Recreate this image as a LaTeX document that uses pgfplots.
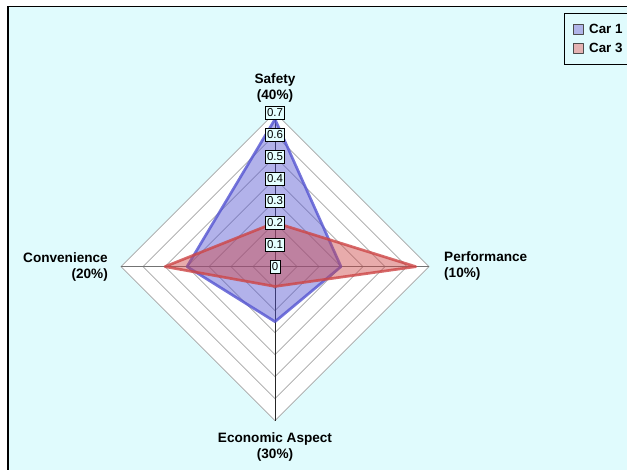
\documentclass[border=0pt]{standalone}
\usepackage{fontspec}
\setmainfont{Liberation Sans}
\usepackage{pgfplots}
\pgfplotsset{compat=1.18}

\definecolor{bgcyan}{RGB}{224,251,253}
\definecolor{boxcyan}{RGB}{228,255,255}
\definecolor{gridgray}{RGB}{165,165,165}
\definecolor{carone}{RGB}{85,85,210}
\definecolor{carthree}{RGB}{205,70,70}
\definecolor{caroneleg}{RGB}{176,180,232}
\definecolor{carthreeleg}{RGB}{228,178,178}

\begin{document}
\begin{tikzpicture}
\begin{axis}[
    x=6.6cm, y=6.6cm,
    xmin=-1.25, xmax=1.6, ymin=-0.924, ymax=1.212,
    hide axis, clip=false,
    legend style={at={(axis cs:1.3136,1.1532)}, anchor=north west,
        draw=black, line width=0.7pt, fill=bgcyan,
        font=\fontsize{11.4}{13}\selectfont\bfseries,
        inner xsep=7pt, inner ysep=7pt, row sep=3pt, column sep=3pt,
        cells={anchor=west}},
]
\coordinate (bl) at (axis cs:-1.25,-0.924);
\coordinate (tr) at (axis cs:1.6,1.212);
\fill[white] (bl) rectangle (tr);
\fill[bgcyan] (axis cs:-1.2136,-0.95) rectangle (axis cs:1.65,1.1805);
\draw[black, line width=0.9pt] (axis cs:-1.2136,-0.95) -- (axis cs:-1.2136,1.1805) -- (axis cs:1.65,1.1805);

% web
\addplot[fill=white, draw=none, forget plot] coordinates {(0,0.7) (0.7,0) (0,-0.7) (-0.7,0)} -- cycle;
\pgfplotsinvokeforeach{0.1,0.2,0.3,0.4,0.5,0.6,0.7}{
  \addplot[draw=gridgray, line width=0.7pt, forget plot] coordinates {(0,#1) (#1,0) (0,-#1) (-#1,0)} -- cycle;
}
\addplot[draw=gray!90!black, line width=1pt, forget plot] coordinates {(-0.7,0) (0.7,0)};
\addplot[draw=black!85, line width=0.7pt, forget plot] coordinates {(0,-0.7) (0,0.7)};

% series
\addplot[fill=carone, fill opacity=0.45, draw=carone, draw opacity=0.8,
    line width=2.3pt, line join=round,
    legend image code/.code={\draw[line width=0.6pt, draw=black!70, fill=caroneleg, opacity=1, fill opacity=1] (0pt,-3.8pt) rectangle (8.5pt,4.2pt);}]
    coordinates {(0,0.67) (0.30,0) (0,-0.25) (-0.40,0)} -- cycle;
\addlegendentry{Car 1}
\addplot[fill=carthree, fill opacity=0.45, draw=carthree, draw opacity=0.8,
    line width=2.3pt, line join=round,
    legend image code/.code={\draw[line width=0.6pt, draw=black!70, fill=carthreeleg, opacity=1, fill opacity=1] (0pt,-3.8pt) rectangle (8.5pt,4.2pt);}]
    coordinates {(0,0.20) (0.64,0) (0,-0.09) (-0.50,0)} -- cycle;
\addlegendentry{Car 3}

% value labels on the Safety spoke
\pgfplotsinvokeforeach{0,0.1,0.2,0.3,0.4,0.5,0.6,0.7}{
  \node[draw=black, line width=0.6pt, fill=boxcyan, inner xsep=1.5pt, inner ysep=0.8pt,
        minimum height=11pt, font=\fontsize{9.8}{10}\selectfont] at (axis cs:0,#1) {#1};
}

% category labels
\node[align=center, inner sep=0pt, font=\fontsize{11.6}{13.6}\selectfont\bfseries]
    at (axis cs:0,0.812) {Safety\\(40\%)};
\node[align=left, anchor=west, inner sep=0pt, font=\fontsize{11.6}{13.6}\selectfont\bfseries]
    at (axis cs:0.768,0.003) {Performance\\(10\%)};
\node[align=right, anchor=east, inner sep=0pt, font=\fontsize{11.6}{13.6}\selectfont\bfseries]
    at (axis cs:-0.759,0.0) {Convenience\\(20\%)};
\node[align=center, inner sep=0pt, font=\fontsize{11.6}{13.6}\selectfont\bfseries]
    at (axis cs:0,-0.819) {Economic Aspect\\(30\%)};
\end{axis}
\pgfresetboundingbox
\useasboundingbox (bl) rectangle (tr);
\end{tikzpicture}
\end{document}
